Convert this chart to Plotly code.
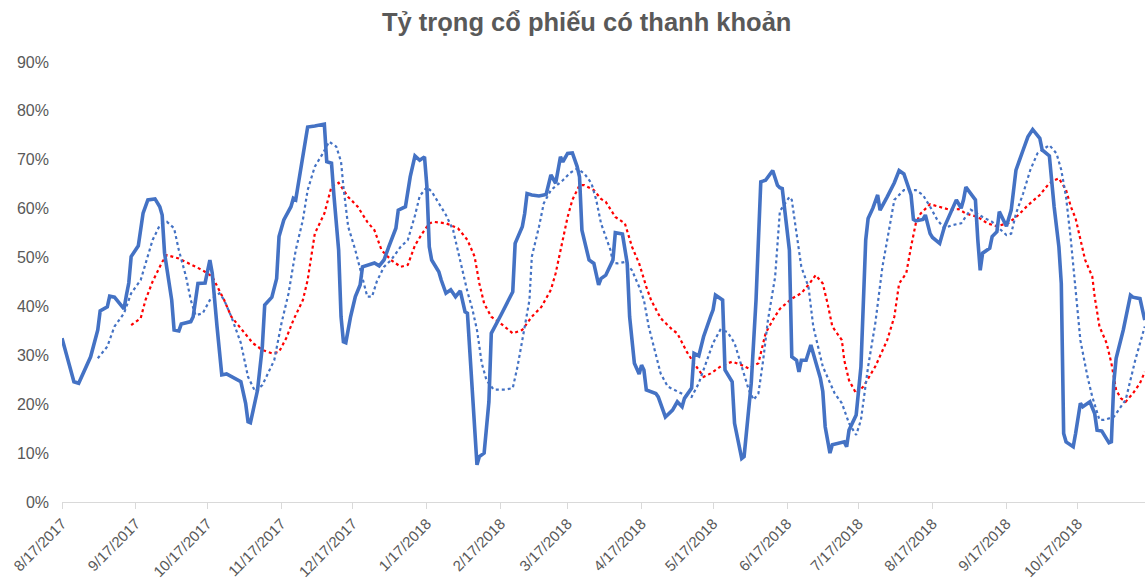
import pandas as pd
import plotly.graph_objects as go

START = "2017-08-17"

# Daily series: days since START, share (%)
main_days = [0, 5, 7, 9, 12, 15, 16, 19, 20, 22, 26, 27, 28, 29, 32, 34, 36, 39, 41, 42, 43, 46, 47, 49, 50,
             54, 55, 57, 60, 62, 63, 65, 67, 69, 71, 75, 77, 78, 79, 82, 84, 85, 88, 90, 91, 93, 96, 97, 98,
             100, 103, 106, 110, 111, 113, 114, 116, 117, 118, 119, 121, 123, 125, 126, 129, 131, 133, 135,
             137, 140, 141, 144, 146, 148, 150, 152, 153, 154, 155, 158, 159, 161, 163, 165, 167, 169, 170,
             172, 174, 175, 177, 179, 180, 184, 189, 190, 193, 194, 195, 197, 200, 203, 205, 207, 209, 210,
             212, 214, 216, 217, 218, 221, 223, 225, 226, 228, 230, 231, 232, 235, 237, 238, 240, 242, 243,
             244, 245, 249, 250, 253, 256, 258, 260, 261, 264, 265, 267, 269, 272, 273, 274, 277, 278, 281,
             282, 285, 286, 287, 289, 291, 293, 295, 298, 300, 301, 302, 305, 306, 308, 309, 310, 312, 314,
             316, 318, 319, 320, 322, 323, 328, 329, 330, 333, 335, 336, 337, 338, 340, 342, 343, 346, 349,
             351, 353, 356, 357, 358, 361, 362, 364, 365, 368, 370, 373, 375, 377, 378, 379, 383, 384, 385,
             386, 389, 390, 392, 393, 396, 398, 400, 403, 405, 407, 410, 411, 414, 416, 418, 419, 420, 421,
             424, 425, 427, 428, 431, 433, 434, 436, 439, 440, 441, 442, 445, 448, 449, 452, 454]
main_vals = [33.5, 24.6, 24.3, 26.4, 29.7, 35.2, 39.1, 39.9, 42.1, 41.9, 39.5, 42.3, 44.8, 50.2, 52.4, 59.1,
             61.8, 62.0, 60.4, 58.7, 50.9, 41.3, 35.2, 35.0, 36.4, 36.9, 37.9, 44.7, 44.8, 49.5, 46.8, 35.9,
             26.0, 26.2, 25.6, 24.6, 20.2, 16.4, 16.2, 22.9, 31.8, 40.3, 41.9, 45.7, 54.3, 57.7, 60.4, 62.1,
             61.8, 67.9, 76.7, 76.9, 77.3, 69.6, 69.3, 62.8, 51.5, 37.9, 32.8, 32.6, 37.9, 42.0, 44.4, 48.1,
             48.5, 48.9, 48.3, 49.5, 52.2, 56.0, 59.7, 60.4, 66.5, 70.8, 69.9, 70.6, 64.5, 52.2, 49.5, 47.1,
             45.4, 42.7, 43.4, 42.0, 43.2, 38.9, 38.6, 23.6, 7.6, 9.3, 10.0, 20.5, 34.5, 38.2, 43.0, 52.9,
             56.3, 59.0, 63.1, 62.8, 62.6, 62.9, 66.9, 65.2, 70.6, 69.6, 71.3, 71.4, 68.6, 66.5, 55.6, 49.5,
             48.8, 44.4, 45.7, 46.4, 48.5, 49.5, 55.1, 54.8, 48.8, 37.9, 28.4, 26.2, 28.0, 27.0, 22.9, 22.2,
             21.5, 17.4, 18.8, 20.5, 19.5, 21.2, 23.3, 30.4, 29.9, 33.8, 38.0, 39.3, 42.3, 41.3, 27.0, 24.6,
             16.1, 8.9, 9.3, 14.0, 24.3, 41.3, 65.5, 65.8, 67.8, 64.8, 64.3, 64.1, 51.5, 29.7, 29.0, 26.6,
             29.0, 29.0, 32.1, 28.7, 25.3, 22.6, 15.4, 10.0, 11.7, 12.3, 11.3, 14.7, 17.8, 27.7, 43.0, 53.6,
             58.0, 60.1, 62.8, 59.7, 62.4, 65.3, 67.8, 67.1, 62.8, 57.8, 57.5, 57.8, 58.7, 54.9, 54.1, 52.9,
             56.3, 59.7, 61.8, 60.1, 61.8, 64.4, 61.8, 53.6, 47.4, 50.9, 51.9, 54.3, 55.3, 59.4, 56.4, 59.7,
             67.9, 72.0, 74.7, 76.2, 74.4, 72.0, 70.8, 60.4, 52.2, 44.7, 14.0, 12.3, 11.3, 14.0, 20.2, 19.5,
             20.5, 18.1, 14.7, 14.5, 12.1, 12.3, 24.3, 29.4, 35.2, 42.3, 41.9, 41.6, 37.2]

# Short moving-average line (blue dotted)
ma_short_days = [15, 19, 22, 26, 29, 33, 38, 41, 44, 47, 49, 52, 54, 56, 59, 62, 66, 68, 71, 75, 78, 81, 84,
                 87, 89, 92, 95, 98, 101, 103, 106, 109, 112, 115, 117, 118, 120, 123, 126, 128, 130, 132,
                 135, 138, 142, 145, 148, 150, 153, 155, 158, 161, 164, 166, 168, 170, 172, 174, 176, 178,
                 181, 186, 189, 191, 193, 196, 197, 200, 202, 205, 210, 213, 216, 219, 222, 224, 226, 227,
                 230, 231, 233, 236, 239, 242, 244, 246, 249, 251, 254, 257, 261, 264, 267, 270, 273, 276,
                 279, 282, 285, 288, 290, 292, 294, 296, 299, 301, 305, 306, 308, 310, 313, 315, 317, 319,
                 324, 327, 330, 333, 335, 338, 341, 344, 347, 349, 353, 358, 361, 364, 367, 370, 373, 377,
                 381, 386, 390, 393, 396, 398, 400, 403, 406, 409, 414, 417, 419, 421, 423, 425, 427, 430,
                 432, 435, 437, 441, 446, 450, 454]
ma_short_vals = [29.4, 31.8, 35.9, 38.6, 42.7, 45.4, 53.6, 56.6, 57.3, 56.0, 51.5, 46.1, 41.3, 38.2, 38.6,
                 41.3, 42.7, 41.3, 37.9, 32.5, 25.6, 22.6, 23.9, 27.0, 29.0, 36.5, 42.7, 51.5, 57.7, 63.8,
                 68.6, 71.0, 73.7, 72.7, 69.6, 64.5, 56.3, 51.5, 46.1, 42.0, 42.0, 45.1, 48.1, 49.5, 52.2,
                 53.6, 58.6, 62.6, 64.4, 63.5, 61.1, 58.7, 55.6, 51.5, 46.8, 43.0, 39.6, 35.2, 28.4, 24.9,
                 23.0, 23.0, 23.3, 27.7, 33.1, 41.3, 50.2, 56.3, 61.1, 63.8, 65.8, 67.3, 68.2, 67.2, 65.2,
                 61.8, 57.0, 55.6, 51.5, 48.9, 48.8, 49.1, 47.4, 44.0, 41.3, 35.9, 30.4, 26.3, 23.6, 22.9,
                 21.9, 21.5, 24.3, 28.4, 32.5, 35.2, 34.8, 32.5, 27.7, 22.9, 20.9, 22.2, 29.0, 37.2, 46.0,
                 59.5, 62.4, 61.8, 54.9, 48.1, 44.0, 35.9, 31.8, 27.7, 22.2, 20.2, 16.1, 13.7, 16.8, 27.7,
                 36.5, 48.1, 56.3, 61.8, 63.8, 63.8, 62.8, 60.4, 57.7, 56.0, 56.6, 57.0, 59.8, 58.3, 57.3,
                 56.0, 54.6, 54.9, 59.0, 63.1, 67.9, 71.3, 73.0, 71.3, 67.9, 62.4, 53.6, 43.4, 33.1, 25.6,
                 21.5, 16.8, 16.8, 17.4, 20.9, 29.0, 35.9]

# Long moving-average line (red dotted)
ma_long_days = [29, 33, 35, 38, 42, 44, 49, 53, 59, 63, 66, 68, 71, 75, 80, 84, 88, 91, 94, 97, 101, 103,
                106, 110, 113, 116, 120, 124, 128, 131, 134, 138, 142, 145, 148, 151, 154, 156, 161, 166,
                170, 173, 175, 177, 180, 184, 189, 193, 197, 201, 205, 207, 209, 212, 214, 217, 219, 223,
                226, 228, 232, 236, 239, 242, 245, 247, 251, 256, 258, 262, 265, 269, 272, 277, 281, 285,
                288, 292, 295, 298, 301, 306, 310, 313, 316, 319, 321, 323, 327, 328, 330, 333, 336, 341,
                346, 349, 351, 354, 356, 358, 360, 364, 367, 372, 376, 379, 384, 388, 392, 397, 401, 405,
                410, 414, 416, 418, 421, 423, 425, 427, 429, 432, 433, 435, 438, 440, 442, 444, 446, 449,
                452, 454]
ma_long_vals = [36.2, 37.6, 41.3, 45.1, 49.1, 50.5, 49.8, 48.8, 47.4, 46.1, 43.4, 41.3, 37.9, 35.6, 32.5,
                31.1, 30.4, 30.7, 33.5, 37.2, 41.3, 45.4, 54.9, 59.0, 64.5, 65.3, 62.4, 60.4, 57.3, 55.6,
                51.5, 49.5, 48.1, 48.5, 52.5, 54.9, 57.0, 57.3, 57.0, 56.0, 53.6, 50.2, 44.7, 40.6, 37.9,
                36.5, 34.5, 35.2, 37.9, 39.9, 43.4, 46.8, 51.5, 58.3, 61.8, 64.8, 64.8, 63.8, 62.0, 61.4,
                58.3, 57.0, 52.2, 48.8, 44.0, 41.3, 37.6, 35.2, 34.5, 30.7, 28.4, 25.6, 26.3, 28.0, 28.7,
                28.0, 27.3, 28.4, 34.5, 37.2, 39.5, 41.6, 42.7, 44.4, 46.4, 44.7, 40.6, 35.9, 33.1, 29.0,
                24.9, 22.2, 23.6, 27.7, 33.1, 37.9, 44.7, 46.8, 52.2, 57.0, 59.0, 60.9, 60.5, 59.8, 59.9,
                59.0, 58.3, 57.0, 56.4, 57.1, 58.7, 60.7, 62.8, 65.2, 65.8, 66.2, 63.8, 60.4, 58.0, 53.6,
                49.5, 46.1, 42.0, 35.9, 32.5, 28.4, 22.9, 21.2, 20.5, 22.2, 24.3, 26.6]

TICK_DATES = ["2017-08-17", "2017-09-17", "2017-10-17", "2017-11-17", "2017-12-17", "2018-01-17",
              "2018-02-17", "2018-03-17", "2018-04-17", "2018-05-17", "2018-06-17", "2018-07-17",
              "2018-08-17", "2018-09-17", "2018-10-17"]
TICK_TEXT = ["8/17/2017", "9/17/2017", "10/17/2017", "11/17/2017", "12/17/2017", "1/17/2018",
             "2/17/2018", "3/17/2018", "4/17/2018", "5/17/2018", "6/17/2018", "7/17/2018",
             "8/17/2018", "9/17/2018", "10/17/2018"]

TITLE = "Tỷ trọng cổ phiếu có thanh khoản"


def to_dates(days):
    return pd.Timestamp(START) + pd.to_timedelta(days, unit="D")


def to_share(vals):
    return [v / 100 for v in vals]


BLUE = "#4472C4"
RED = "#FF0000"
GRAY = "#595959"

fig = go.Figure()
fig.add_trace(go.Scatter(x=to_dates(ma_long_days), y=to_share(ma_long_vals), mode="lines",
                         line=dict(color=RED, width=2.2, dash="dot"), hoverinfo="skip"))
fig.add_trace(go.Scatter(x=to_dates(ma_short_days), y=to_share(ma_short_vals), mode="lines",
                         line=dict(color=BLUE, width=2.2, dash="dot"), hoverinfo="skip"))
fig.add_trace(go.Scatter(x=to_dates(main_days), y=to_share(main_vals), mode="lines",
                         line=dict(color=BLUE, width=3.6)))

x_end = pd.Timestamp(START) + pd.Timedelta(days=454.1)

fig.update_layout(
    width=1145, height=580,
    margin=dict(l=62, r=0, t=62, b=78),
    paper_bgcolor="white", plot_bgcolor="white",
    showlegend=False,
    font=dict(family="Liberation Sans, Arial, sans-serif", color=GRAY),
    title=dict(text="<b>" + TITLE + "</b>", x=0.5124, xanchor="center", y=0.962, yanchor="middle",
               font=dict(size=25.5, color=GRAY, family="Liberation Sans, Arial, sans-serif")),
    xaxis=dict(type="date", range=[pd.Timestamp(START), x_end],
               tickmode="array", tickvals=TICK_DATES, ticktext=TICK_TEXT, tickangle=-45,
               tickfont=dict(size=15, color=GRAY), showgrid=False, zeroline=False,
               showline=True, linecolor="#D9D9D9", linewidth=1.3,
               ticks="outside", ticklen=6, tickcolor="#D9D9D9", tickwidth=1.3),
    yaxis=dict(range=[0, 0.9], tickmode="array", tickvals=[i / 10 for i in range(10)],
               tickformat=".0%", tickfont=dict(size=16, color=GRAY), showgrid=False,
               zeroline=False, showline=False, ticks="", ticklabelstandoff=12),
)

fig.write_html("out.html", config={"displayModeBar": False},
               post_script="document.body.style.margin='0';")
